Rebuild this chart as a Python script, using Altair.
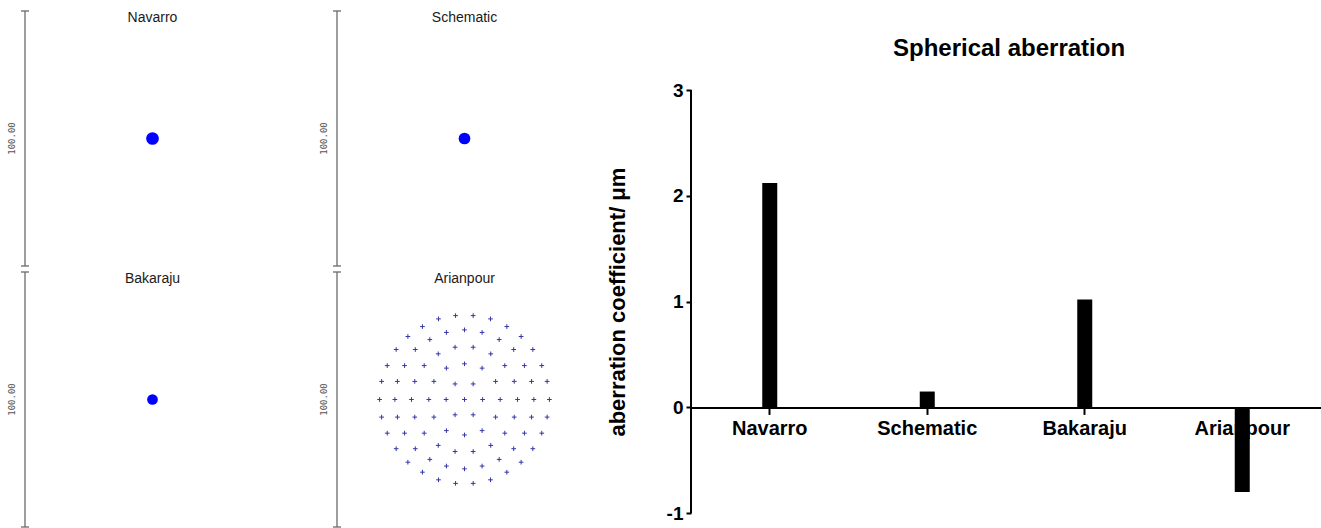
import altair as alt
import pandas as pd

# ---------------------------------------------------------------- data
MODELS = ["Navarro", "Schematic", "Bakaraju", "Arianpour"]
SPHERICAL_UM = [2.12, 0.15, 1.02, -0.80]
Y_TICKS = [-1, 0, 1, 2, 3]
Y_TITLE = "aberration coefficient/ μm"
CHART_TITLE = "Spherical aberration"

# spot diagrams: ray intercepts in µm relative to the chief ray
POINT_SPOT_MODELS = ["Navarro", "Schematic", "Bakaraju"]
POINT_SPOT_X = [0.0, 0.0, 0.0]
POINT_SPOT_Y = [0.0, 0.0, 0.0]

ARIANPOUR_X = [
    0.0,
    -3.7, 3.4, -7.2, 7.1, -3.7, 3.4,
    0.0, -7.1, 6.9, -12.0, 12.2, -14.0, 14.0, -12.0, 12.2, -7.1, 6.9, 0.0,
    -3.7, 3.4, -10.3, 10.3, -15.8, 15.8, -19.5, 19.5, -20.8, 20.8,
    -19.5, 19.5, -15.8, 15.8, -10.3, 10.3, -3.7, 3.4,
    0.0, -7.1, 6.9, -13.6, 13.6, -19.3, 19.3, -23.5, 23.5, -26.3, 26.3, -27.3, 27.2,
    -26.3, 26.3, -23.5, 23.5, -19.3, 19.3, -13.6, 13.6, -7.1, 6.9, 0.0,
    -3.5, 3.4, -10.2, 10.2, -16.5, 16.6, -22.2, 22.2, -26.8, 26.8, -30.3, 30.3,
    -32.5, 32.4, -33.3, 33.3, -32.5, 32.4, -30.3, 30.3, -26.8, 26.8, -22.2, 22.2,
    -16.5, 16.6, -10.2, 10.2, -3.5, 3.4,
]
ARIANPOUR_Y = [
    0.0,
    6.1, 6.1, 0.0, 0.0, -6.0, -6.0,
    14.0, 12.3, 12.3, 7.1, 7.1, 0.0, 0.0, -6.9, -6.9, -12.2, -12.2, -13.9,
    20.5, 20.5, 17.9, 17.9, 13.3, 13.3, 7.1, 7.1, 0.0, 0.0,
    -6.9, -6.9, -13.2, -13.2, -18.0, -18.0, -20.4, -20.4,
    27.3, 26.3, 26.3, 23.5, 23.5, 19.6, 19.6, 13.3, 13.3, 7.1, 7.1, 0.0, 0.0,
    -6.9, -6.9, -13.2, -13.2, -19.3, -19.3, -23.5, -23.5, -26.1, -26.1, -27.2,
    32.9, 32.9, 31.6, 31.6, 28.6, 28.6, 24.7, 24.7, 19.6, 19.6, 13.3, 13.3,
    7.1, 7.1, 0.0, 0.0, -6.9, -6.9, -13.2, -13.2, -19.3, -19.3, -24.6, -24.6,
    -28.5, -28.5, -31.5, -31.5, -32.9, -32.9,
]

SCALE_BAR_UM = 100
SCALE_LABEL = "100.00"

# ---------------------------------------------------------------- layout
FONT = "Liberation Sans"
MONO = "DejaVu Sans Mono"

PX_PER_UM = 2.55
PANEL_W_PX, PANEL_H_PX = 312, 261
BAR_LEFT_PX, BAR_TOP_PX = 25, 11
LEFT_W, LEFT_H = 2 * PANEL_W_PX, 528

PANEL_W_UM = PANEL_W_PX / PX_PER_UM
PANEL_H_UM = PANEL_H_PX / PX_PER_UM
HALF = SCALE_BAR_UM / 2
X_MIN = -HALF - BAR_LEFT_PX / PX_PER_UM
X_MAX = X_MIN + LEFT_W / PX_PER_UM
Y_MAX = HALF + BAR_TOP_PX / PX_PER_UM
Y_MIN = Y_MAX - LEFT_H / PX_PER_UM

PANEL_GRID = {"Navarro": (0, 0), "Schematic": (1, 0), "Bakaraju": (0, 1), "Arianpour": (1, 1)}
SPOT_DOT = {"Navarro": 161, "Schematic": 114, "Bakaraju": 94}
TITLE_Y_UM = 47.3
LABEL_X_UM = -HALF - 13 / PX_PER_UM


def place(model, x, y):
    c, r = PANEL_GRID[model]
    return x + c * PANEL_W_UM, y - r * PANEL_H_UM


# panel furniture (scale bars, captions)
panel_rows, cap_rows = [], []
for m in MODELS:
    bx, ytop = place(m, -HALF, HALF)
    _, ybot = place(m, -HALF, -HALF)
    lx, ly = place(m, LABEL_X_UM, 0)
    tx, ty = place(m, 0, TITLE_Y_UM)
    panel_rows.append(dict(model=m, x=bx, y=ytop, y2=ybot, lx=lx, ly=ly, tx=tx, ty=ty,
                           label=SCALE_LABEL))
    cap_rows += [dict(model=m, x=bx, y=ytop), dict(model=m, x=bx, y=ybot)]
panels = pd.DataFrame(panel_rows)
caps = pd.DataFrame(cap_rows)

dots = pd.DataFrame([
    dict(model=m, x=place(m, x, y)[0], y=place(m, x, y)[1])
    for m, x, y in zip(POINT_SPOT_MODELS, POINT_SPOT_X, POINT_SPOT_Y)
])
rays = pd.DataFrame([
    dict(model="Arianpour", x=place("Arianpour", x, y)[0], y=place("Arianpour", x, y)[1])
    for x, y in zip(ARIANPOUR_X, ARIANPOUR_Y)
])

xs = alt.Scale(domain=[X_MIN, X_MAX], nice=False, zero=False)
ys = alt.Scale(domain=[Y_MIN, Y_MAX], nice=False, zero=False)

bars_l = alt.Chart(panels).mark_rule(color="#6a6a6a", strokeWidth=1.3).encode(
    x=alt.X("x:Q", scale=xs, axis=None), y=alt.Y("y:Q", scale=ys, axis=None), y2="y2:Q")
caps_l = alt.Chart(caps).mark_rule(color="#6a6a6a", strokeWidth=1.3, xOffset=-4, x2Offset=4).encode(
    x=alt.X("x:Q", scale=xs, axis=None), x2="x:Q", y=alt.Y("y:Q", scale=ys, axis=None))
labels_l = alt.Chart(panels).mark_text(font=MONO, fontSize=9, angle=270, color="#555555",
                                       baseline="middle", align="center").encode(
    x=alt.X("lx:Q", scale=xs, axis=None), y=alt.Y("ly:Q", scale=ys, axis=None), text="label:N")
titles_l = alt.Chart(panels).mark_text(font=FONT, fontSize=14, color="#1a1a1a",
                                       baseline="middle", align="center").encode(
    x=alt.X("tx:Q", scale=xs, axis=None), y=alt.Y("ty:Q", scale=ys, axis=None), text="model:N")
dots_l = alt.Chart(dots).mark_circle(color="#0000ff", opacity=1).encode(
    x=alt.X("x:Q", scale=xs, axis=None), y=alt.Y("y:Q", scale=ys, axis=None),
    size=alt.Size("model:N", scale=alt.Scale(domain=list(SPOT_DOT), range=list(SPOT_DOT.values())),
                  legend=None))
rays_l = alt.Chart(rays).mark_point(shape="M-1,0L1,0M0,-1L0,1", filled=False, size=22,
                                    strokeWidth=1, color="#3535a5", opacity=1).encode(
    x=alt.X("x:Q", scale=xs, axis=None), y=alt.Y("y:Q", scale=ys, axis=None))

spots = alt.layer(bars_l, caps_l, labels_l, titles_l, dots_l, rays_l).properties(
    width=LEFT_W, height=LEFT_H)

# ---------------------------------------------------------------- bar chart
BAR_W, BAR_H = 630, 528
PX_PER_UNIT = 105.8
TOP_TICK_PX = 90
B_MAX = Y_TICKS[-1] + TOP_TICK_PX / PX_PER_UNIT
B_MIN = B_MAX - BAR_H / PX_PER_UNIT
ZERO_PX = B_MAX * PX_PER_UNIT

coef = pd.DataFrame({"model": MODELS, "value": SPHERICAL_UM})

bar_x = alt.X("model:N", sort=MODELS,
              scale=alt.Scale(paddingInner=0, paddingOuter=0),
              axis=alt.Axis(title=None, labelAngle=0, orient="bottom",
                            offset=-(BAR_H - ZERO_PX),
                            labelFont=FONT, labelFontSize=20, labelFontWeight="bold",
                            labelColor="black", labelPadding=4,
                            domainColor="black", domainWidth=2,
                            tickColor="black", tickWidth=2, tickSize=7))
bar_y = alt.Y("value:Q", scale=alt.Scale(domain=[B_MIN, B_MAX], nice=False, zero=False),
              axis=alt.Axis(values=Y_TICKS, domain=False, grid=False,
                            labelExpr="'' + datum.value",
                            tickColor="black", tickWidth=2, tickSize=5,
                            labelFont=FONT, labelFontSize=19, labelFontWeight="bold",
                            labelColor="black", labelPadding=3,
                            title=Y_TITLE, titleFont=FONT, titleFontSize=22,
                            titleFontWeight="bold", titleColor="black",
                            titleX=-74, titleY=(TOP_TICK_PX + (ZERO_PX + PX_PER_UNIT)) / 2,
                            titleBaseline="middle", titleAlign="center"))

bars_r = alt.Chart(coef).mark_bar(color="black", size=15).encode(
    x=bar_x, y=bar_y, y2=alt.datum(0))
axis_line = alt.Chart(pd.DataFrame({"lo": [Y_TICKS[0]], "hi": [Y_TICKS[-1]]})).mark_rule(
    color="black", strokeWidth=2).encode(x=alt.value(0), y="lo:Q", y2="hi:Q")
title_r = alt.Chart(pd.DataFrame({"t": [CHART_TITLE]})).mark_text(
    font=FONT, fontSize=24, fontWeight="bold", color="black", align="center",
    baseline="alphabetic").encode(x=alt.value(318), y=alt.value(56), text="t:N")

coef_chart = alt.layer(bars_r, axis_line, title_r).properties(width=BAR_W, height=BAR_H)

chart = alt.hconcat(spots, coef_chart, spacing=67, bounds="flush").properties(
    padding=0).configure_view(stroke=None)

chart.save("out.html", embed_options={"renderer": "svg", "actions": False})
